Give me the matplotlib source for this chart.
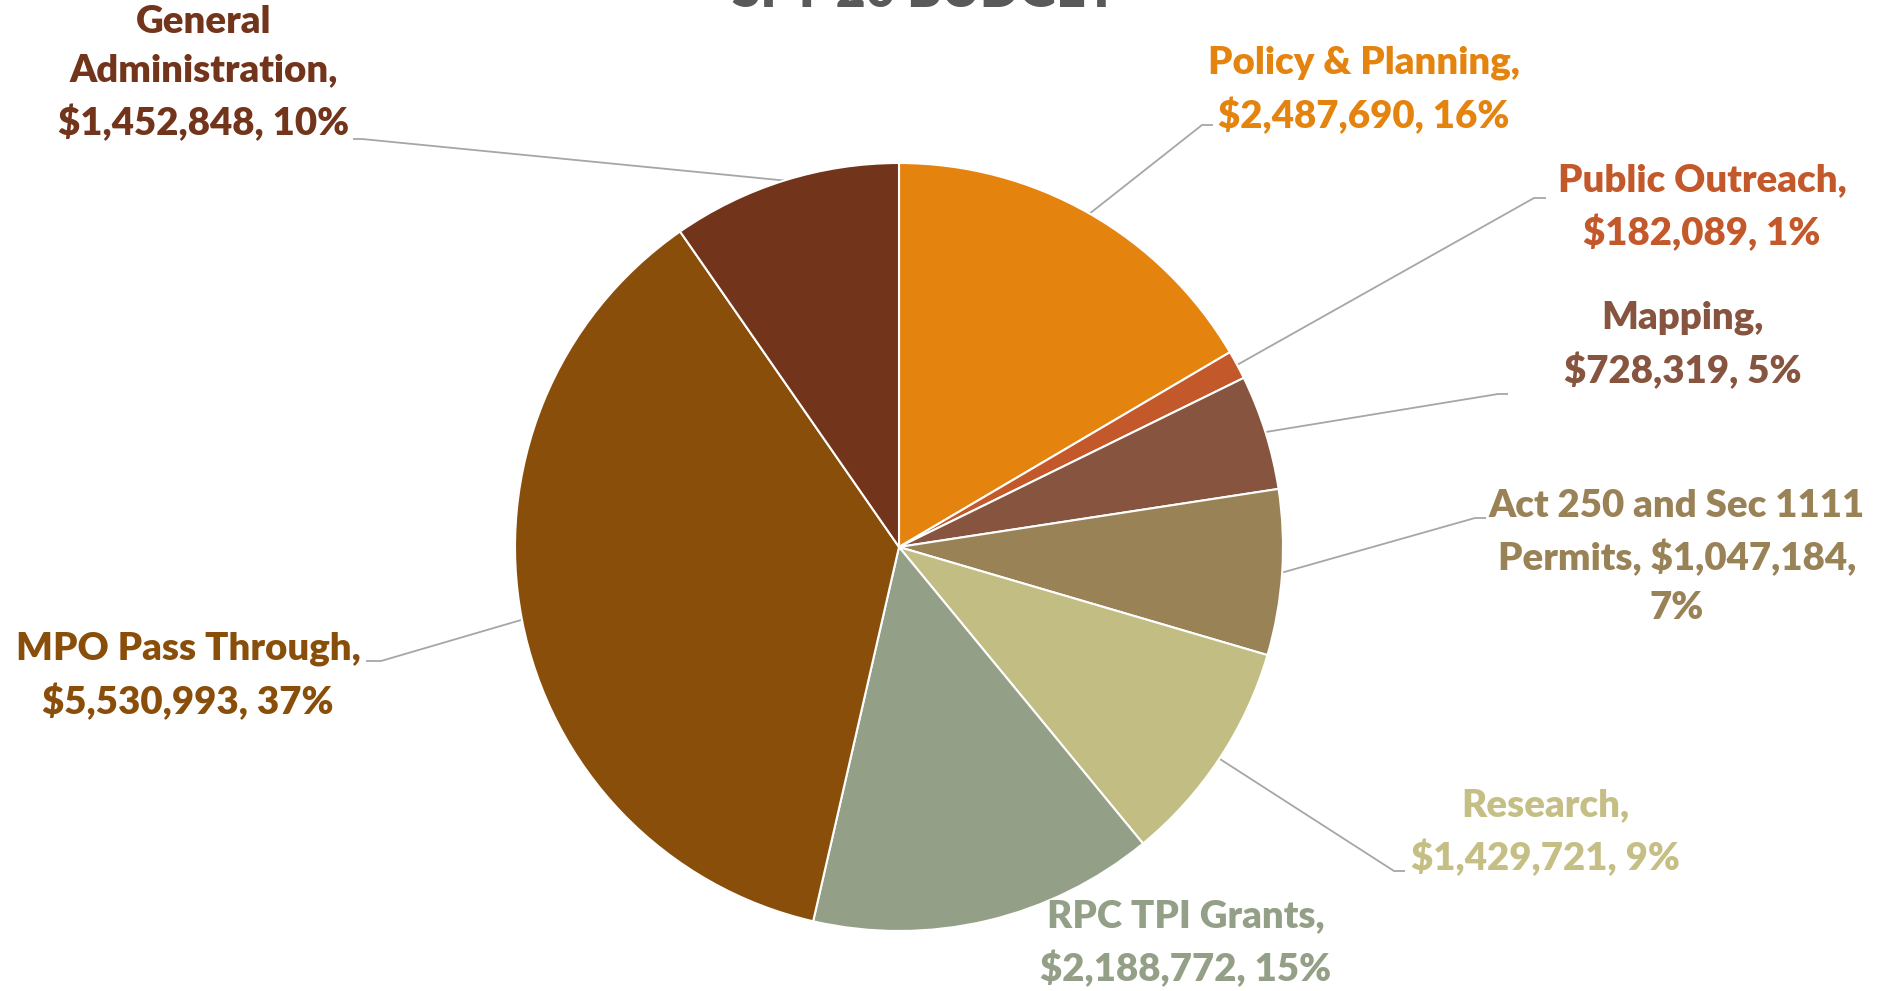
import numpy as np
import matplotlib
matplotlib.use("Agg")
import matplotlib.pyplot as plt

W, H = 1880, 991

categories = ["Policy & Planning", "Public Outreach", "Mapping",
              "Act 250 and Sec 1111 Permits", "Research", "RPC TPI Grants",
              "MPO Pass Through", "General Administration"]
values = [2487690, 182089, 728319, 1047184, 1429721, 2188772, 5530993, 1452848]
percents = [16, 1, 5, 7, 9, 15, 37, 10]
colors = ["#E5830F", "#C3582A", "#86543F", "#9A8257", "#C2BD82", "#949F87",
          "#8A4E0B", "#72341A"]
label_colors = ["#E5830F", "#C3582A", "#86543F", "#9A8257", "#C5BF85", "#949F87",
                "#8A4E0B", "#72341A"]
label_texts = [
    "Policy & Planning,\n$2,487,690, 16%",
    "Public Outreach,\n$182,089, 1%",
    "Mapping,\n$728,319, 5%",
    "Act 250 and Sec 1111\nPermits, $1,047,184,\n7%",
    "Research,\n$1,429,721, 9%",
    "RPC TPI Grants,\n$2,188,772, 15%",
    "MPO Pass Through,\n$5,530,993, 37%",
    "General\nAdministration,\n$1,452,848, 10%",
]
title = "SFY 20 BUDGET"

# layout (pixel coordinates, y measured from top)
center = (899, 547)
radius = 384
label_pos = [(1364, 90), (1702, 207), (1683, 345), (1677, 557), (1545, 832),
             (1186, 943), (188, 676), (204, 73)]
# leader: (elbow, end) or None
leaders = [((1202, 125), (1213, 125)), ((1534, 198), (1546, 198)),
           ((1498, 394), (1508, 394)), ((1475, 518), (1486, 518)),
           ((1394, 871), (1405, 871)), None,
           ((381, 661), (366, 661)), ((362, 139), (353, 139))]

def Y(y):
    return H - y

fig = plt.figure(figsize=(W / 100, H / 100), dpi=100)
ax = fig.add_axes([0, 0, 1, 1])
ax.set_xlim(0, W)
ax.set_ylim(0, H)
ax.set_aspect("equal")
ax.axis("off")

wedges, _ = ax.pie(values, colors=colors, startangle=90, counterclock=False,
                   center=(center[0], Y(center[1])), radius=radius,
                   wedgeprops=dict(edgecolor="white", linewidth=1.5))
ax.set_xlim(0, W)
ax.set_ylim(0, H)

font = dict(family=["Lato", "DejaVu Sans"], fontweight="heavy", fontsize=27.6)

for w, txt, pos, col, ld in zip(wedges, label_texts, label_pos, label_colors, leaders):
    ax.text(pos[0], Y(pos[1]), txt, ha="center", va="center", color=col,
            linespacing=1.53, **font)
    if ld is not None:
        mid = np.deg2rad((w.theta1 + w.theta2) / 2)
        sx = center[0] + radius * np.cos(mid)
        sy = Y(center[1]) + radius * np.sin(mid)
        (ex, ey), (tx, ty) = ld
        ax.plot([sx, ex, tx], [sy, Y(ey), Y(ty)], color="#A6A6A6", lw=1.3,
                solid_capstyle="butt", zorder=0)

ax.text(925, Y(7), title, ha="center", va="baseline", color="#595959",
        family=["Lato", "DejaVu Sans"], fontweight="heavy", fontsize=37)

fig.savefig("out.png", dpi=100)
